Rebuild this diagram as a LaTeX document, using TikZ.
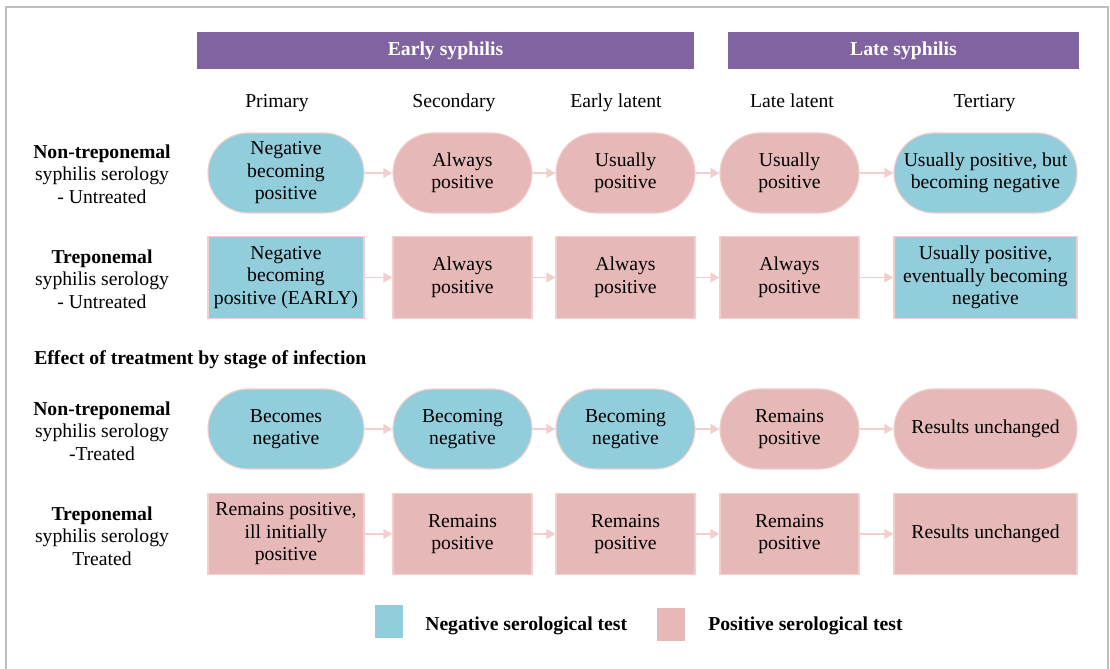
\documentclass[tikz,border=0pt]{standalone}
\usepackage{fontspec}
\setmainfont{Liberation Serif}
\usetikzlibrary{shapes.misc,arrows.meta}
\definecolor{negblue}{HTML}{92CDDC}
\definecolor{pospink}{HTML}{E6B8B7}
\definecolor{stagepurple}{HTML}{8064A2}
\definecolor{linkpink}{HTML}{F2CFCD}
\definecolor{framegray}{HTML}{BFBFBF}
\begin{document}
\begin{tikzpicture}[x=0.025cm, y=-0.025cm, >={Triangle[length=6.5pt,width=7pt]},
    every node/.style={font=\fontsize{14}{16}\selectfont, align=center, inner sep=0pt},
    pill/.style={rounded rectangle, draw=linkpink, line width=0.8pt, minimum height=2cm},
    box/.style={rectangle, draw=linkpink, line width=0.8pt, minimum height=2.03cm},
    negfill/.style={fill=negblue}, posfill/.style={fill=pospink},
    wA/.style={minimum width=3.9cm}, wB/.style={minimum width=3.475cm}, wC/.style={minimum width=4.575cm},
    link/.style={->, draw=linkpink, fill=linkpink, line width=1.3pt},
    stage/.style={anchor=base},
    band/.style={fill=stagepurple, text=white, font=\fontsize{14}{16}\selectfont\bfseries, minimum height=0.925cm}]
    \useasboundingbox (0,0) rectangle (1110,669);
    \draw[framegray, line width=1.5pt] (6,669) -- (6,7) -- (1108,7) -- (1108,669);
    % stage banners
    \node[band, minimum width=12.425cm] (early) at (445.5,50.5) {Early syphilis};
    \node[band, minimum width=8.775cm] (late) at (903.5,50.5) {Late syphilis};
    \node[stage] (primary) at (277,108) {Primary};
    \node[stage] (secondary) at (454,108) {Secondary};
    \node[stage] (earlylat) at (616,108) {Early latent};
    \node[stage] (latelat) at (792,108) {Late latent};
    \node[stage] (tertiary) at (984.5,108) {Tertiary};
    % row labels
    \node (lab1) at (102,174) {\textbf{Non-treponemal}\\syphilis serology\\- Untreated};
    \node (lab2) at (102,279) {\textbf{Treponemal}\\syphilis serology\\- Untreated};
    \node (lab3) at (102,431) {\textbf{Non-treponemal}\\syphilis serology\\-Treated};
    \node (lab4) at (102,536) {\textbf{Treponemal}\\syphilis serology\\Treated};
    \node[anchor=west, font=\fontsize{14}{16}\selectfont\bfseries] (effect) at (34,360) {Effect of treatment by stage of infection};
    % untreated
    \node[pill, negfill, wA] (a1) at (286,173) {Negative\\becoming\\positive};
    \node[pill, posfill, wB] (a2) at (462.5,173) {Always\\positive};
    \node[pill, posfill, wB] (a3) at (625.5,173) {Usually\\positive};
    \node[pill, posfill, wB] (a4) at (789.5,173) {Usually\\positive};
    \node[pill, negfill, wC] (a5) at (985.5,173) {Usually positive, but\\becoming negative};
    \node[box, negfill, wA] (b1) at (286,277.5) {Negative\\becoming\\positive (EARLY)};
    \node[box, posfill, wB] (b2) at (462.5,277.5) {Always\\positive};
    \node[box, posfill, wB] (b3) at (625.5,277.5) {Always\\positive};
    \node[box, posfill, wB] (b4) at (789.5,277.5) {Always\\positive};
    \node[box, negfill, wC] (b5) at (985.5,277.5) {Usually positive,\\eventually becoming\\negative};
    % treated
    \node[pill, negfill, wA] (c1) at (286,429) {Becomes\\negative};
    \node[pill, negfill, wB] (c2) at (462.5,429) {Becoming\\negative};
    \node[pill, negfill, wB] (c3) at (625.5,429) {Becoming\\negative};
    \node[pill, posfill, wB] (c4) at (789.5,429) {Remains\\positive};
    \node[pill, posfill, wC] (c5) at (985.5,429) {Results unchanged};
    \node[box, posfill, wA] (d1) at (286,534) {Remains positive,\\ill initially\\positive};
    \node[box, posfill, wB] (d2) at (462.5,534) {Remains\\positive};
    \node[box, posfill, wB] (d3) at (625.5,534) {Remains\\positive};
    \node[box, posfill, wB] (d4) at (789.5,534) {Remains\\positive};
    \node[box, posfill, wC] (d5) at (985.5,534) {Results unchanged};
    \foreach \r in {a,b,c,d}
      \foreach \i/\j in {1/2,2/3,3/4,4/5}
        \draw[link] (\r\i.east) -- (\r\j.west);
    % legend
    \node[fill=negblue, minimum width=0.7cm, minimum height=0.825cm] (negkey) at (389,621.5) {};
    \node[anchor=west, font=\fontsize{14}{16}\selectfont\bfseries] (negtext) at (425,626) {Negative serological test};
    \node[fill=pospink, minimum width=0.7cm, minimum height=0.825cm] (poskey) at (671,624.5) {};
    \node[anchor=west, font=\fontsize{14}{16}\selectfont\bfseries] (postext) at (708,626) {Positive serological test};
\end{tikzpicture}
\end{document}
